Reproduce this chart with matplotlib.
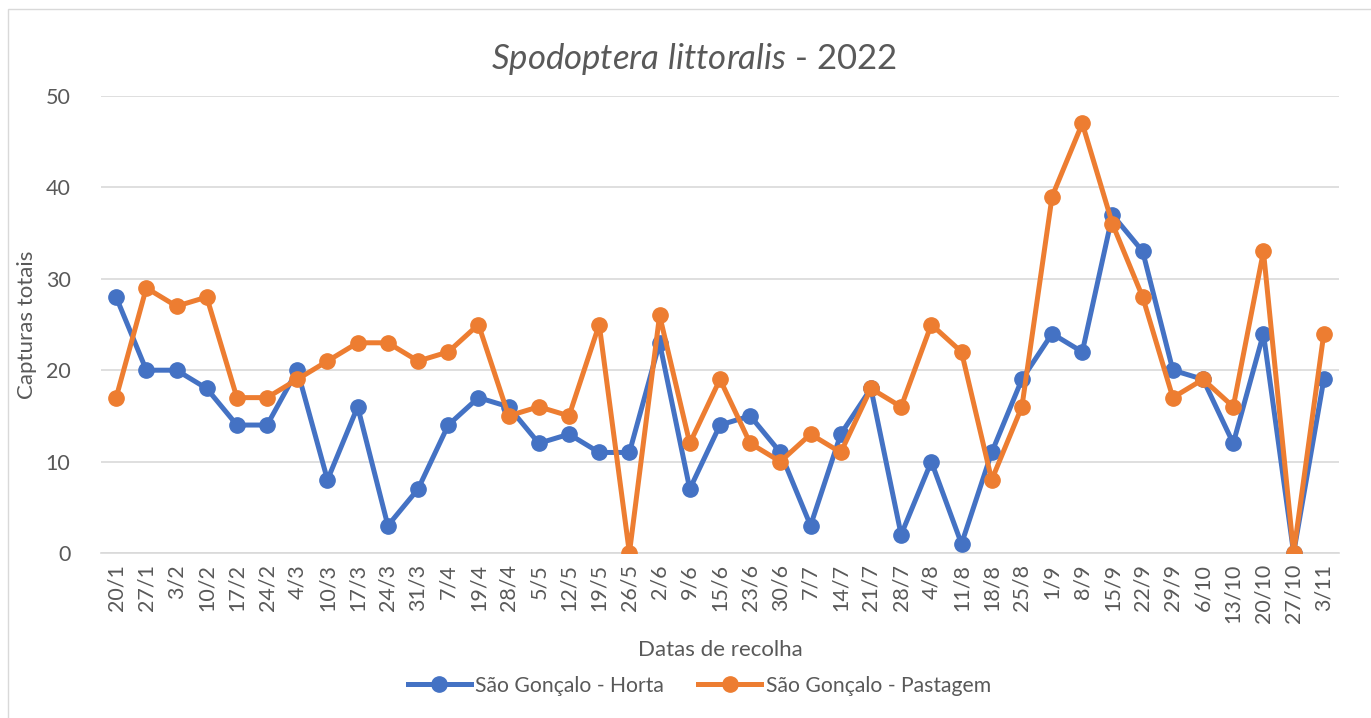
import matplotlib
matplotlib.use('Agg')
import matplotlib.pyplot as plt
from matplotlib.patches import Rectangle

# collection dates and total captures per site
datas = ['20/1', '27/1', '3/2', '10/2', '17/2', '24/2', '4/3', '10/3', '17/3', '24/3',
         '31/3', '7/4', '19/4', '28/4', '5/5', '12/5', '19/5', '26/5', '2/6', '9/6',
         '15/6', '23/6', '30/6', '7/7', '14/7', '21/7', '28/7', '4/8', '11/8', '18/8',
         '25/8', '1/9', '8/9', '15/9', '22/9', '29/9', '6/10', '13/10', '20/10', '27/10', '3/11']
horta = [28, 20, 20, 18, 14, 14, 20, 8, 16, 3,
         7, 14, 17, 16, 12, 13, 11, 11, 23, 7,
         14, 15, 11, 3, 13, 18, 2, 10, 1, 11,
         19, 24, 22, 37, 33, 20, 19, 12, 24, 0, 19]
pastagem = [17, 29, 27, 28, 17, 17, 19, 21, 23, 23,
            21, 22, 25, 15, 16, 15, 25, 0, 26, 12,
            19, 12, 10, 13, 11, 18, 16, 25, 22, 8,
            16, 39, 47, 36, 28, 17, 19, 16, 33, 0, 24]

plt.rcParams['font.family'] = ['Lato', 'DejaVu Sans']
plt.rcParams['mathtext.fontset'] = 'custom'
plt.rcParams['mathtext.it'] = 'Lato:italic'
plt.rcParams['mathtext.rm'] = 'Lato'

txt = '#595959'
blue = '#4472C4'
orange = '#ED7D31'

fig = plt.figure(figsize=(13.71, 7.18), dpi=100)
ax = fig.add_axes([0.0737, 0.2298, 0.9029, 0.6365])

# chart border
fig.patches.append(Rectangle((0.006, -0.01), 1.0, 0.997, transform=fig.transFigure,
                             fill=False, edgecolor='#D9D9D9', linewidth=1))

x = range(len(datas))
ax.plot(x, horta, color=blue, lw=3.6, marker='o', ms=11, label='São Gonçalo - Horta', zorder=3)
ax.plot(x, pastagem, color=orange, lw=3.6, marker='o', ms=11, label='São Gonçalo - Pastagem', zorder=4)

ax.set_xlim(-0.5, len(datas) - 0.5)
ax.set_ylim(0, 50)
ax.set_yticks(range(0, 51, 10))
ax.set_xticks(list(x))
ax.set_xticklabels(datas, rotation=90, fontsize=15.5, color=txt)
ax.tick_params(axis='y', labelsize=15.5, labelcolor=txt, length=0, pad=22)
ax.tick_params(axis='x', length=0, pad=8)
ax.grid(axis='y', color='#D9D9D9', lw=1.2)
ax.set_axisbelow(True)
for s in ['top', 'right', 'left']:
    ax.spines[s].set_visible(False)
ax.spines['bottom'].set_color('#D9D9D9')
ax.spines['bottom'].set_linewidth(1.2)

ax.set_ylabel('Capturas totais', fontsize=16, color=txt, labelpad=6)
ax.set_xlabel('Datas de recolha', fontsize=16, color=txt, labelpad=12)
fig.text(0.506, 0.918, r'$\mathit{Spodoptera\ littoralis}$ - 2022', fontsize=25,
         color=txt, ha='center', va='center')

fig.legend(loc='center', bbox_to_anchor=(0.510, 0.045), ncol=2, frameon=False,
           fontsize=15.2, labelcolor=txt, handlelength=3.0, handletextpad=0.2, columnspacing=1.6)

fig.savefig('out.png', dpi=100)
